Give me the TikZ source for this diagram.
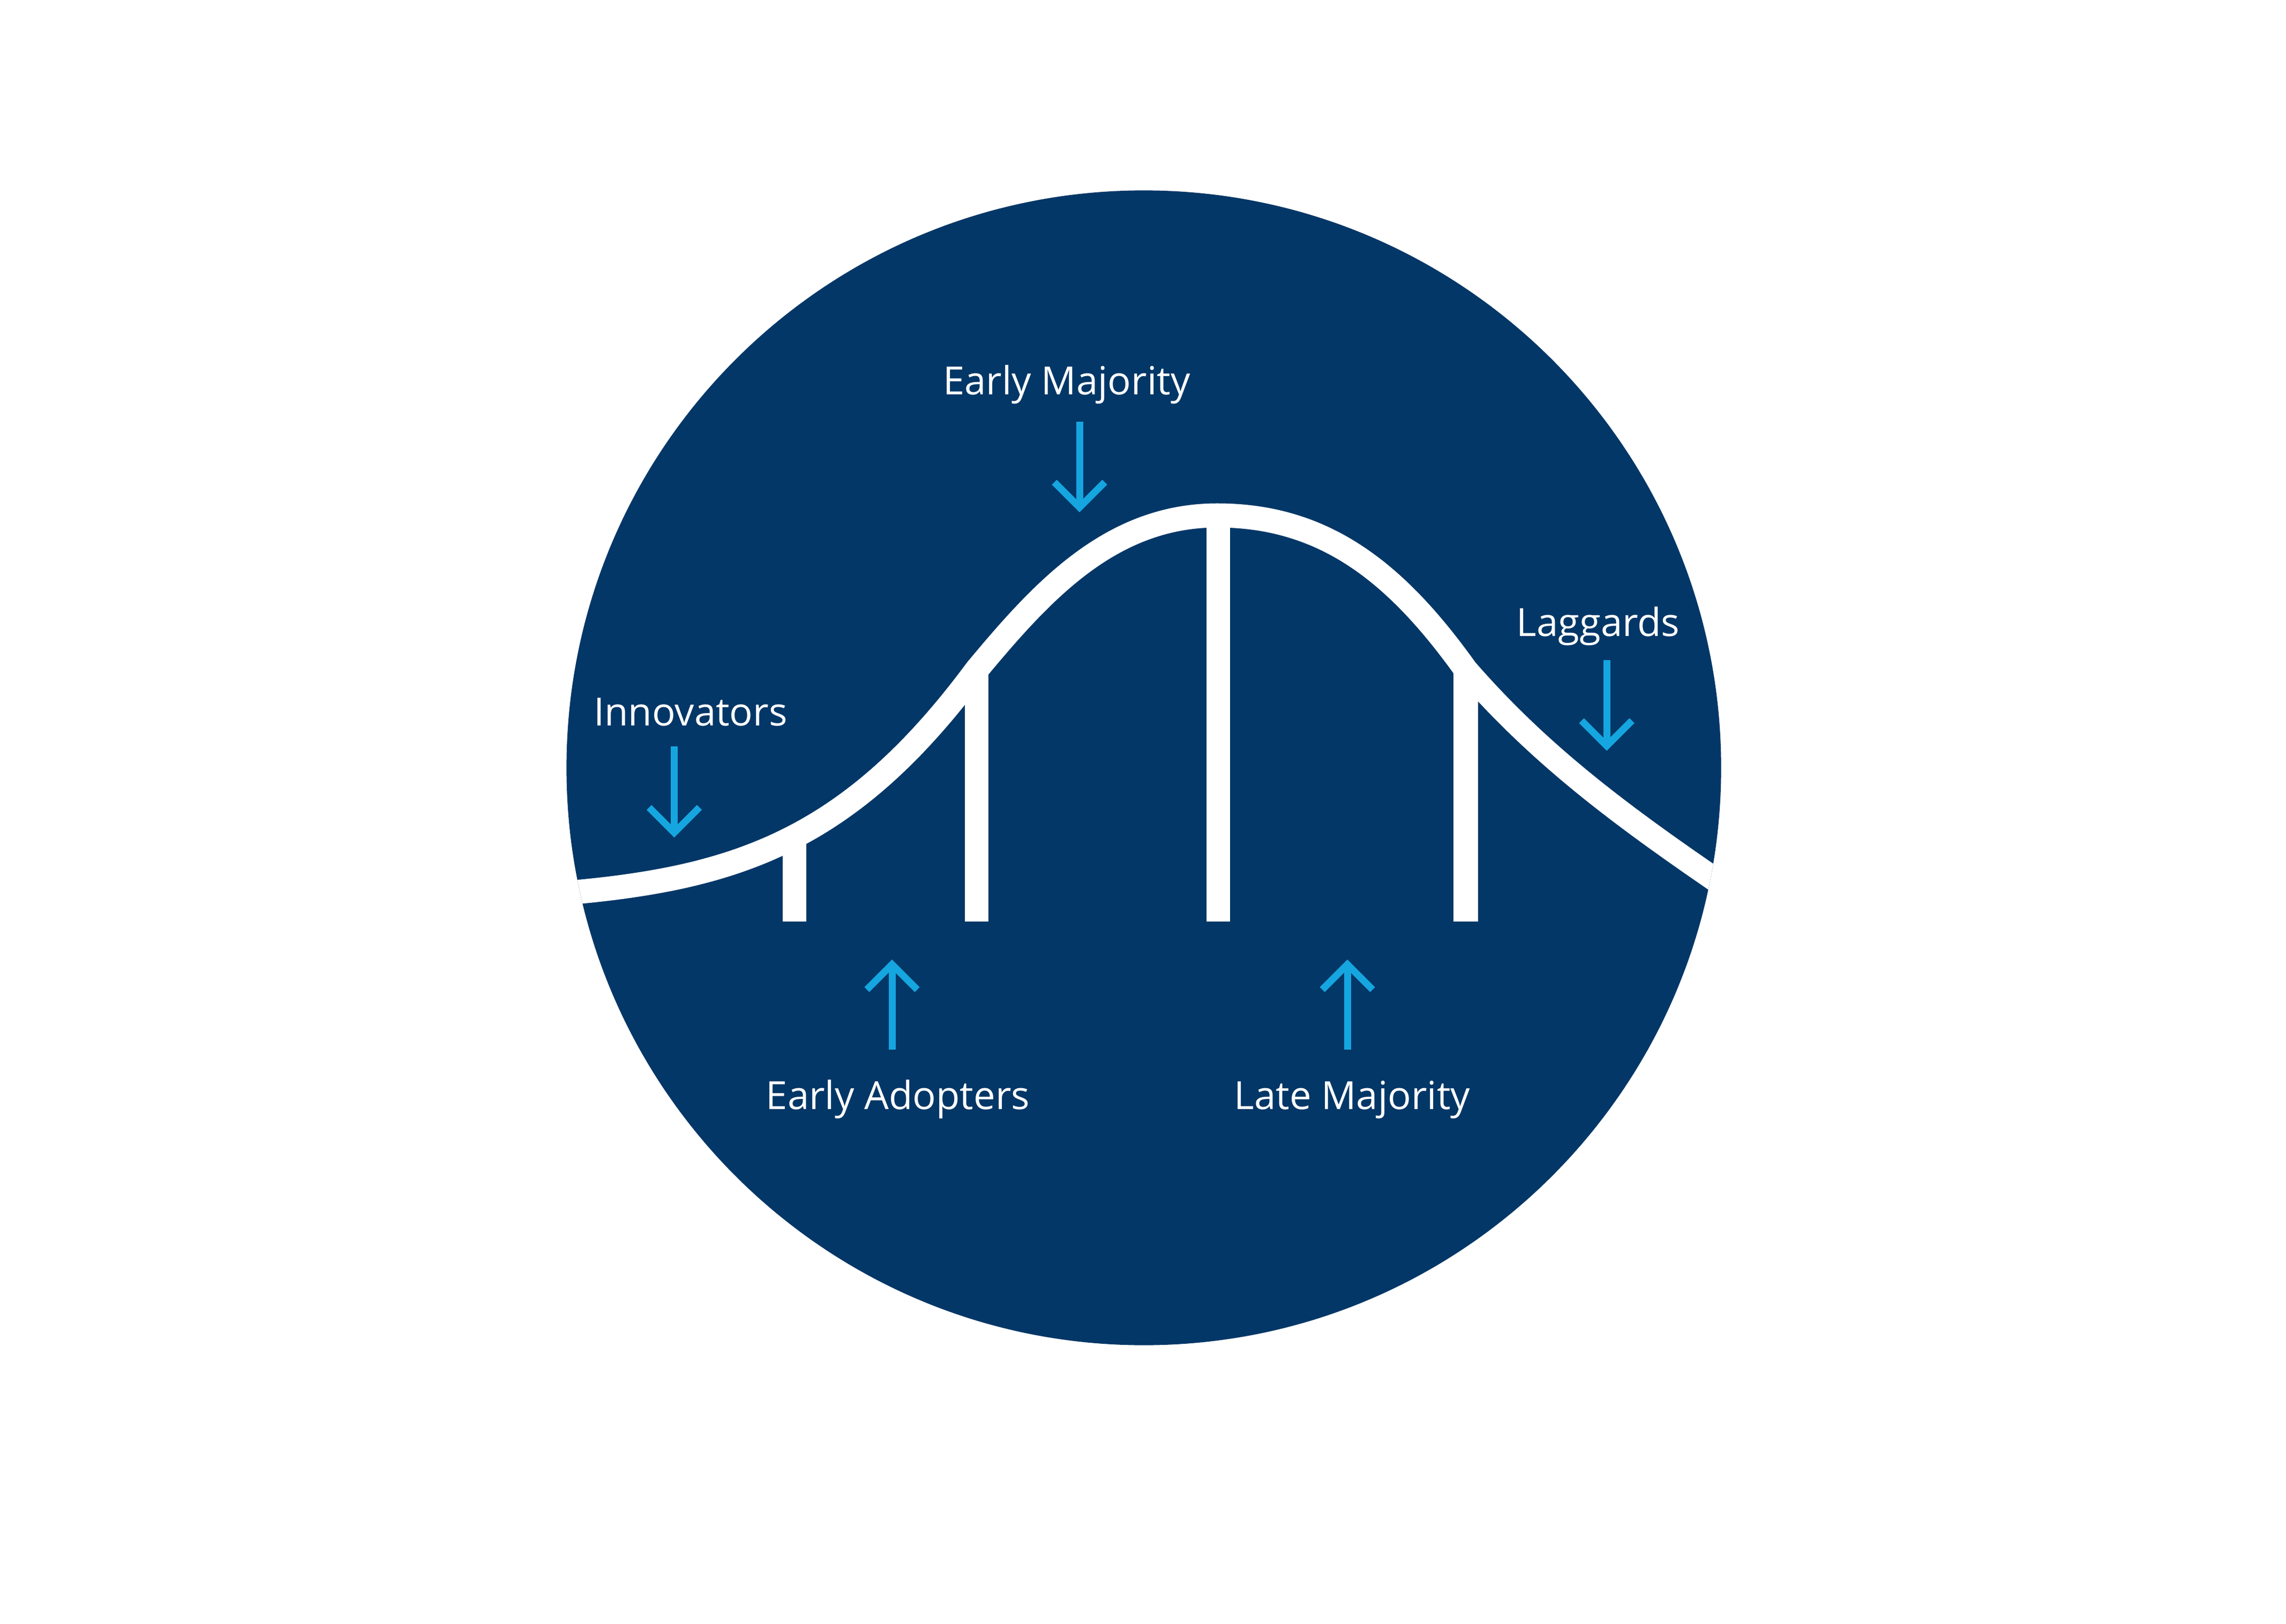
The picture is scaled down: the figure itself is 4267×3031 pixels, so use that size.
\documentclass[tikz,border=0pt]{standalone}
\usepackage{fontspec}
\setmainfont{Open Sans}
\definecolor{navy}{RGB}{3,55,103}
\definecolor{arrowblue}{RGB}{21,166,224}
\tikzset{
  lbl/.style={text=white, font=\fontsize{20.6}{24}\selectfont, anchor=base, inner sep=0pt},
  shaft/.style={draw=arrowblue, line width=3.7pt, line cap=butt},
  chev/.style={draw=arrowblue, line width=3.7pt, line join=miter, line cap=butt},
  bellcurve/.style={draw=white, line width=12.8pt, line join=miter},
  barfill/.style={fill=white, draw=none},
}
\begin{document}
\begin{tikzpicture}[x=0.01cm, y=-0.01cm]
\fill[white] (0,0) rectangle (4267,3031);
\useasboundingbox (0,0) rectangle (4267,3031);
% disc
\fill[navy] (2135,1433) circle[radius=10.77cm];
% bars
\fill[barfill] (1461,1556) rectangle (1505,1720);
\fill[barfill] (1801,1250) rectangle (1845,1720);
\fill[barfill] (2252,962) rectangle (2296,1720);
\fill[barfill] (2713,1255) rectangle (2759,1720);
% bell curve
\begin{scope}
\clip (2135,1433) circle[radius=10.77cm];
\draw[bellcurve] (1000,1671)
  .. controls (1350,1646.5) and (1573,1587.5) .. (1823,1250)
  .. controls (1943,1106) and (2072,962) .. (2272,962)
  .. controls (2472,962) and (2606,1068) .. (2736,1250)
  .. controls (2886,1422.5) and (3050,1539) .. (3250,1675);
\end{scope}
% labels
\node[lbl] (innov) at (1289,1354) {Innovators};
\node[lbl] (emaj) at (1991,737) {Early Majority};
\node[lbl] (lagg) at (2983,1187) {Laggards};
\node[lbl] (eadopt) at (1676,2070) {Early Adopters};
\node[lbl] (lmaj) at (2524,2070) {Late Majority};
% arrow end points
\coordinate (innovS) at (1258.5,1393);
\coordinate (innovT) at (1258.5,1554);
\coordinate (emajS) at (2015,787);
\coordinate (emajT) at (2015,947);
\coordinate (laggS) at (2999,1232);
\coordinate (laggT) at (2999,1392);
\coordinate (eadoptS) at (1665,1959);
\coordinate (eadoptT) at (1665,1800);
\coordinate (lmajS) at (2515,1959);
\coordinate (lmajT) at (2515,1800);
% downward arrows
\foreach \a in {innov,emaj,lagg}{
  \draw[shaft] (\a S) -- (\a T);
  \draw[chev] (\a T) ++(-47,-47) -- (\a T) -- ++(47,-47);
}
% upward arrows
\foreach \a in {eadopt,lmaj}{
  \draw[shaft] (\a S) -- (\a T);
  \draw[chev] (\a T) ++(-47,47) -- (\a T) -- ++(47,47);
}
\end{tikzpicture}
\end{document}
